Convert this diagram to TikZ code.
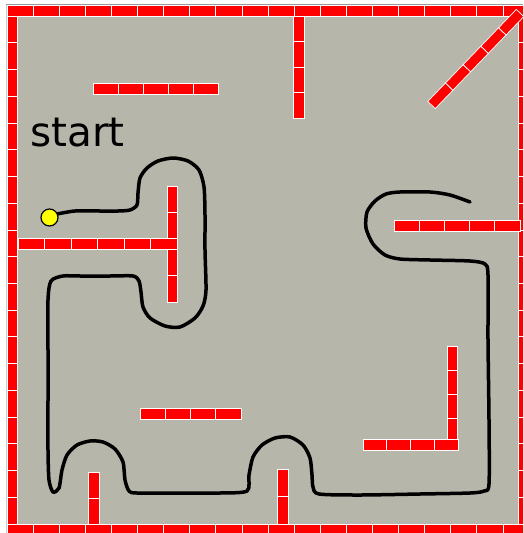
\documentclass[tikz,border=0pt]{standalone}
\usepackage{fontspec}
\setmainfont{DejaVu Sans}
\usepackage{tikz}
\definecolor{floorgrey}{RGB}{182,182,170}
\definecolor{brickred}{RGB}{255,0,0}
\definecolor{frameline}{RGB}{150,150,150}
\definecolor{dotyellow}{RGB}{255,255,0}
\newcommand{\hbricks}[5]{%
  \pgfmathsetmacro{\brickw}{(#3-#1)/#5}%
  \foreach \k in {1,...,#5}{\draw[brick] ({#1+(\k-1)*\brickw},#2) rectangle ({#1+\k*\brickw},#4);}}
\newcommand{\vbricks}[5]{%
  \pgfmathsetmacro{\brickh}{(#4-#2)/#5}%
  \foreach \k in {1,...,#5}{\draw[brick] (#1,{#2+(\k-1)*\brickh}) rectangle (#3,{#2+\k*\brickh});}}

\begin{document}
\begin{tikzpicture}[x=1pt,y=-1pt,
brick/.style={fill=brickred,draw=white,line width=0.7pt},
track/.style={line width=3.5pt,line cap=round,line join=round},
starttext/.style={font=\fontsize{40.5}{42}\selectfont,anchor=base west,inner sep=0pt},
robotdot/.style={circle,draw=black,fill=dotyellow,line width=1.2pt,minimum size=17pt,inner sep=0pt}]
\clip (0,0) rectangle (523,533);
\fill[white] (0,0) rectangle (523,533);
\fill[floorgrey] (17,16) rectangle (518,524);
\fill[frameline] (6,3.5) rectangle (523,5);
\fill[black!20] (5.5,5) rectangle (7,533);
% outer walls
\hbricks{7}{5}{529}{16}{20}
\hbricks{7}{524}{529}{535}{20}
\vbricks{7}{16}{17.5}{524}{19}
\vbricks{518}{16}{528.5}{524}{19}
% inner walls
\vbricks{293}{16}{304}{118}{4}
\hbricks{93}{83}{218}{94}{5}
\hbricks{18}{238}{177}{249}{6}
\vbricks{167}{186}{177}{238}{2}
\vbricks{167}{249}{177}{302}{2}
\hbricks{394}{220}{520}{231}{5}
\vbricks{447}{346}{457}{443}{4}
\hbricks{363}{439}{458}{450}{4}
\hbricks{140}{408}{241}{419}{4}
\vbricks{88.5}{472}{99}{524}{2}
\vbricks{277}{469}{288}{524}{2}
\begin{scope}[shift={(431.5,105)},rotate=46.1]
\hbricks{0}{-5.2}{127.7}{5.2}{5}
\end{scope}
% driven track
\draw[track] plot[smooth,tension=0.45] coordinates {
(57,214) (75,211) (100,211) (118,211) (130,210) (137,205) (138,193) (140,178)
(147,168) (158,161) (173,158) (188,161) (199,170) (204,187) (205,215) (205,250)
(206,290) (203,306) (195,318) (180,327) (165,326) (150,318) (143,307) (141,292)
(139,281) (133,276) (110,276) (80,276) (63,276) (51,281) (48,300) (48,350)
(48,400) (48,450) (49,480) (53,492) (59,488) (62,470) (67,455) (77,445)
(90,441) (103,442) (115,449) (123,462) (125,480) (129,491) (137,493) (180,493)
(220,493) (247,491) (249,475) (253,457) (262,445) (275,438) (290,437) (303,445)
(310,458) (312,475) (313,487) (319,494) (360,495) (420,494) (470,493) (484,491)
(489,484) (489,420) (488,340) (488,275) (485,264) (470,261) (430,260) (400,259)
(385,255) (373,244) (366,228) (367,212) (375,201) (386,194) (400,192) (430,192)
(450,195) (470,202)};
\node[robotdot] (robot) at (49.5,217.5) {};
\node[starttext] (start) at (30,146) {start};
\end{tikzpicture}
\end{document}
